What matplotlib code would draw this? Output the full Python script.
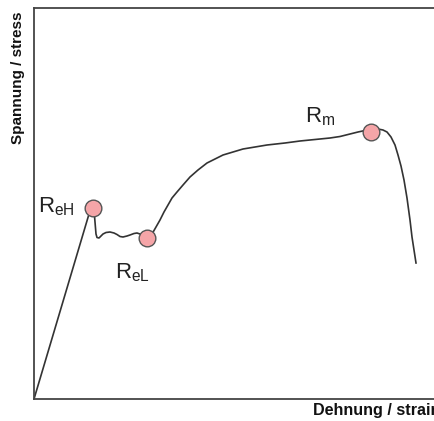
import matplotlib
matplotlib.use("Agg")
import matplotlib.pyplot as plt

plt.rcParams['font.family'] = ['Liberation Sans', 'DejaVu Sans']
plt.rcParams['mathtext.fontset'] = 'custom'
plt.rcParams['mathtext.rm'] = 'Liberation Sans'

# sketched stress-strain curve (x = strain, y = stress, pixel-like units)
strain = [0, 57.7, 59, 60, 61, 62, 63, 65, 67, 69, 72, 76, 80, 83, 86, 89, 93, 96,
          100, 103, 106, 109, 112, 115, 118, 122, 126, 130, 134, 138, 143, 149,
          156, 164, 173, 181, 189, 199, 209, 221, 233, 251, 266, 281, 296, 306,
          316, 324, 331, 338, 344, 349, 353, 357, 361, 364, 367, 370, 373, 376,
          378, 380, 382]
stress = [0, 194, 193, 189, 177, 165, 161.5, 161, 163, 165, 166.5, 167, 166,
          164.5, 162.5, 162, 163, 164, 165.5, 166, 165, 163, 161, 162, 165, 172,
          179, 187, 194, 201, 207, 214, 222, 229, 236, 240, 244, 247, 250, 252,
          254, 256, 258, 259.5, 261, 262.5, 265, 267, 268.5, 269.5, 270, 269,
          267, 262, 254, 244, 233, 219, 201, 179, 162, 149, 136]

# marked points: ReH, ReL, Rm
pt_x = [58.5, 113, 337]
pt_y = [191, 161, 267]
pt_names = [r'R$_{\mathrm{eH}}$', r'R$_{\mathrm{eL}}$', r'R$_{\mathrm{m}}$']
lab_x = [4, 81, 271]
lab_y = [192, 126, 282]

fig = plt.figure(figsize=(4.35, 4.21), dpi=100)
ax = fig.add_axes([34 / 435, 22 / 421, 406 / 435, 391 / 421])

ax.plot(strain, stress, color='#333333', lw=1.2, zorder=2, solid_joinstyle='round')
ax.plot(pt_x, pt_y, 'o', ms=12, mfc='#f5a5a8', mec='#555555', mew=1.0, zorder=3)
for name, lx, ly in zip(pt_names, lab_x, lab_y):
    ax.text(lx, ly, name, fontsize=16, color='#222222', va='center', ha='left')

ax.set_xlim(0, 406)
ax.set_ylim(0, 391)
ax.set_xticks([])
ax.set_yticks([])
for s in ax.spines.values():
    s.set_color('#444444')
    s.set_linewidth(1.3)

fig.text(313 / 435, 1 - 410 / 421, 'Dehnung / strain', fontsize=11.6, fontweight='bold',
         va='center', ha='left', color='#111111')
fig.text(18 / 435, 1 - 11 / 421, 'Spannung / stress', fontsize=11, fontweight='bold',
         rotation=90, va='top', ha='center', color='#111111')

fig.savefig('out.png', dpi=100)
